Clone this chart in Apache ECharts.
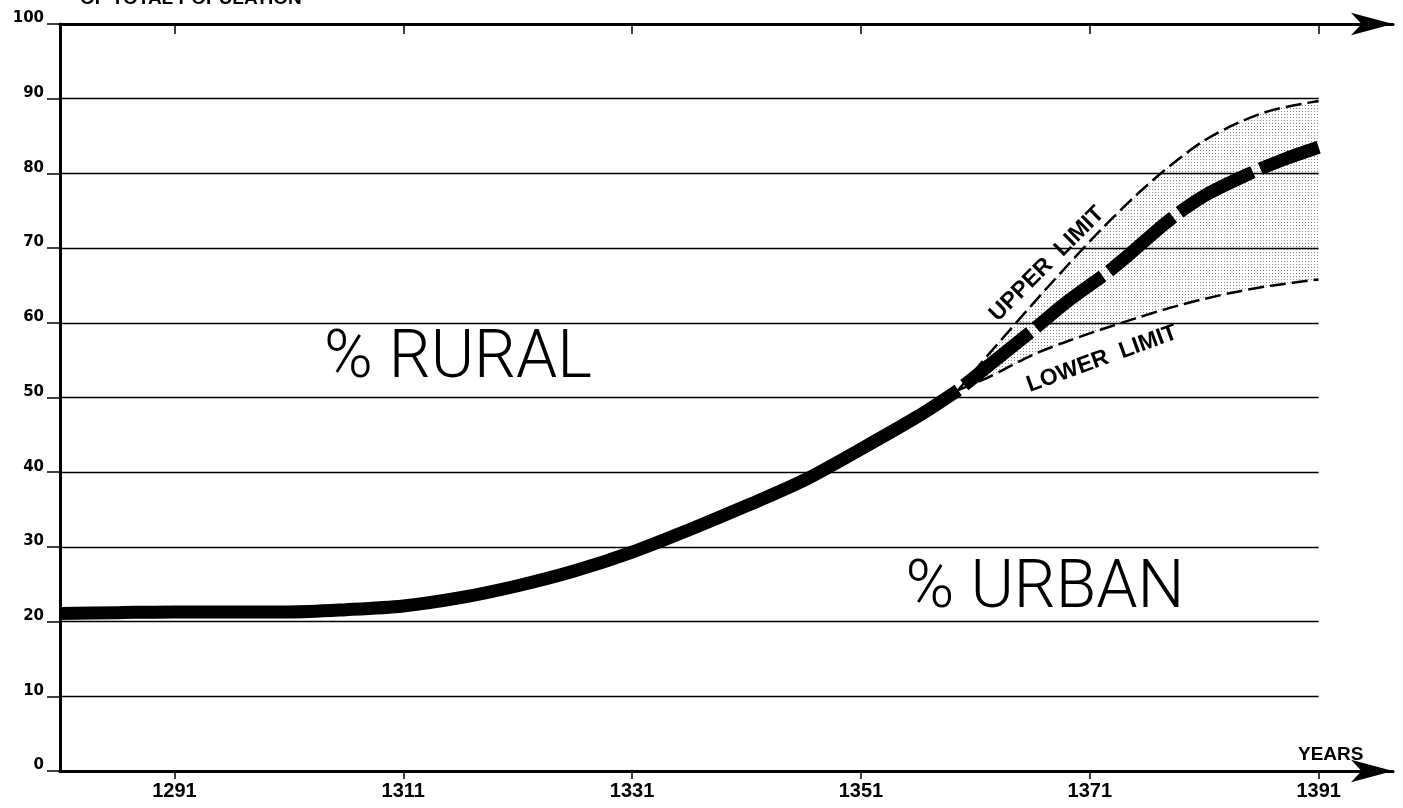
<!DOCTYPE html>
<html>
<head>
<meta charset="utf-8">
<script src="https://cdn.jsdelivr.net/npm/echarts@6/dist/echarts.min.js"></script>
<style>
  html, body { margin: 0; padding: 0; background: #fff; }
  #chart { width: 1403px; height: 808px; }
</style>
</head>
<body>
<div id="chart"></div>
<script>
// tick labels
const yearTicks = [1291, 1311, 1331, 1351, 1371, 1391]
const percentTicks = [10, 20, 30, 40, 50, 60, 70, 80, 90]

// % urban, observed part (solid thick line)
const urbanYears = [1281, 1286, 1291, 1296, 1301, 1306, 1311, 1316, 1321, 1326, 1331, 1336, 1341, 1346, 1351, 1356, 1359.5]
const urbanValues = [21.1, 21.2, 21.3, 21.3, 21.3, 21.6, 22.1, 23.2, 24.8, 26.8, 29.3, 32.3, 35.5, 38.9, 43.1, 47.5, 51.0]

// % urban, projection (thick dashed line)
const projYears = [1359.5, 1363, 1366, 1369, 1373, 1378, 1381, 1385, 1388, 1391]
const projValues = [51.0, 55.3, 59.0, 62.8, 67.3, 73.8, 77.0, 80.0, 81.9, 83.5]

// upper / lower limit of the projection
const limitYears = [1359.5, 1362, 1366, 1369, 1372, 1375, 1378, 1381, 1384, 1387, 1391]
const upperValues = [51.0, 55.5, 62.5, 67.6, 72.5, 77.0, 81.0, 84.4, 86.8, 88.5, 89.7]
const lowerValues = [51.0, 52.6, 55.7, 57.5, 59.1, 60.6, 62.0, 63.2, 64.2, 65.0, 65.8]

const X_MIN = 1281
const X_MAX = 1397.5
const X_END = 1391

const BOLD_NARROW = "'Liberation Sans Narrow', 'Liberation Sans', Arial, sans-serif"

// stipple pattern for the uncertainty band
const dots = document.createElement('canvas')
dots.width = 3
dots.height = 3
const dctx = dots.getContext('2d')
dctx.fillStyle = '#8c8c8c'
dctx.fillRect(0, 0, 1, 1)

const pairs = (xs, ys) => xs.map((x, i) => [x, ys[i]])

const chart = echarts.init(document.getElementById('chart'), null, { renderer: 'canvas' })

const axisLineStyle = { color: '#000', width: 3 }
const arrowLine = { show: true, onZero: false, lineStyle: axisLineStyle, symbol: ['none', 'arrow'], symbolSize: [17, 42] }

const option = {
  animation: false,
  backgroundColor: '#fff',
  textStyle: { fontFamily: BOLD_NARROW, color: '#000' },
  grid: { left: 60, right: 10, top: 24, bottom: 37, outerBoundsMode: 'none' },
  xAxis: [
    {
      type: 'value',
      position: 'bottom',
      min: X_MIN,
      max: X_MAX,
      axisLine: arrowLine,
      axisTick: { show: true, customValues: yearTicks, length: 8, lineStyle: { color: '#000', width: 1.5 } },
      axisLabel: {
        customValues: yearTicks,
        formatter: v => String(v),
        margin: 12,
        fontFamily: BOLD_NARROW,
        fontWeight: 'bold',
        fontSize: 20,
        lineHeight: 16,
        color: '#000'
      },
      splitLine: { show: false }
    },
    {
      type: 'value',
      position: 'top',
      min: X_MIN,
      max: X_MAX,
      axisLine: arrowLine,
      axisTick: { show: true, inside: true, customValues: yearTicks, length: 10, lineStyle: { color: '#000', width: 1.5 } },
      axisLabel: { show: false },
      splitLine: { show: false }
    }
  ],
  yAxis: {
    type: 'value',
    min: 0,
    max: 100,
    interval: 10,
    axisLine: { show: true, onZero: false, lineStyle: axisLineStyle },
    axisTick: { show: true, length: 13, lineStyle: { color: '#000', width: 1.5 } },
    axisLabel: {
      margin: 16,
      fontFamily: "'DejaVu Sans', sans-serif",
      fontWeight: 'bold',
      fontSize: 15,
      lineHeight: 11,
      verticalAlign: 'bottom',
      color: '#000'
    },
    splitLine: { show: false }
  },
  series: [
    {
      // horizontal grid lines, stopping at the last year
      type: 'line',
      data: [],
      z: 1,
      silent: true,
      markLine: {
        silent: true,
        symbol: ['none', 'none'],
        label: { show: false },
        lineStyle: { color: '#000', width: 1.3, type: 'solid' },
        data: percentTicks.map(v => [{ coord: [X_MIN, v] }, { coord: [X_END, v] }])
      }
    },
    {
      // lower limit; value first so the stack runs on the y values
      name: 'lower',
      type: 'line',
      stack: 'band',
      smooth: 0.3,
      showSymbol: false,
      z: 2,
      encode: { x: 1, y: 0 },
      data: limitYears.map((y, i) => [lowerValues[i], y]),
      lineStyle: { color: '#000', width: 2.5, type: [16, 6] }
    },
    {
      // band up to the upper limit
      name: 'upper',
      type: 'line',
      stack: 'band',
      smooth: 0.3,
      showSymbol: false,
      z: 2,
      encode: { x: 1, y: 0 },
      data: limitYears.map((y, i) => [upperValues[i] - lowerValues[i], y]),
      lineStyle: { color: '#000', width: 2.5, type: [16, 6] },
      areaStyle: { color: { image: dots, repeat: 'repeat' }, opacity: 1 }
    },
    {
      name: 'urban',
      type: 'line',
      smooth: 0.3,
      showSymbol: false,
      z: 4,
      data: pairs(urbanYears, urbanValues),
      lineStyle: { color: '#000', width: 13, cap: 'butt' }
    },
    {
      name: 'projection',
      type: 'line',
      smooth: 0.3,
      showSymbol: false,
      z: 4,
      data: pairs(projYears, projValues),
      lineStyle: { color: '#000', width: 13, type: [84, 8], dashOffset: 84, cap: 'butt' }
    }
  ],
  graphic: [
    {
      type: 'text', left: 80, top: -11, silent: true,
      style: { text: 'OF TOTAL POPULATION', font: "bold 19px " + BOLD_NARROW, fill: '#000' }
    },
    {
      type: 'text', x: 1298, y: 745, silent: true,
      style: { text: 'YEARS', font: "bold 19px " + BOLD_NARROW, fill: '#000' }
    },
    {
      type: 'text', x: 458, y: 360, silent: true,
      style: { text: '% RURAL', font: "300 66px Roboto, 'Liberation Sans', sans-serif", fill: '#000', align: 'center', verticalAlign: 'middle' }
    },
    {
      type: 'text', x: 1045, y: 590, silent: true,
      style: { text: '% URBAN', font: "300 66px Roboto, 'Liberation Sans', sans-serif", fill: '#000', align: 'center', verticalAlign: 'middle' }
    },
    {
      type: 'text', x: 1047, y: 264, rotation: 45 * Math.PI / 180, silent: true,
      style: { text: 'UPPER  LIMIT', font: "bold 23px " + BOLD_NARROW, fill: '#000', align: 'center', verticalAlign: 'middle' }
    },
    {
      type: 'text', x: 1102, y: 359, rotation: 20 * Math.PI / 180, silent: true,
      style: { text: 'LOWER  LIMIT', font: "bold 23px " + BOLD_NARROW, fill: '#000', align: 'center', verticalAlign: 'middle' }
    }
  ]
}

chart.setOption(option)
</script>
</body>
</html>
